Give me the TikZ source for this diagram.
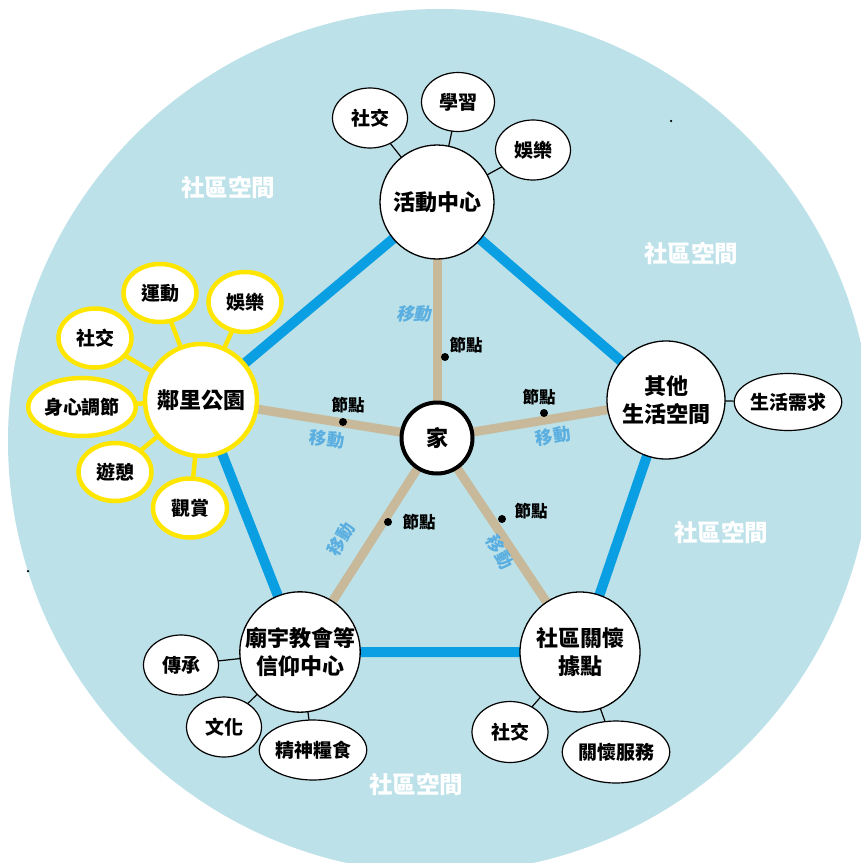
\documentclass[tikz,border=0pt]{standalone}
\usepackage{fontspec}
\setmainfont{Noto Sans CJK TC}
\usetikzlibrary{shapes.geometric}
\definecolor{bgblue}{HTML}{BCE1E8}
\definecolor{pentblue}{HTML}{0A9FE3}
\definecolor{spokecol}{HTML}{C8B99B}
\definecolor{parkyellow}{HTML}{FFE600}
\definecolor{movetext}{HTML}{5AAEE0}
\pgfdeclarelayer{bgzero}
\pgfdeclarelayer{bgone}
\pgfsetlayers{bgzero,bgone,main}
\begin{document}
\begin{tikzpicture}[x=1pt,y=-1pt,
  hub/.style={circle,draw=black,line width=1.3pt,fill=white,align=center,inner sep=0pt,
    font=\fontsize{22}{28}\selectfont\bfseries},
  parkhub/.style={hub,draw=parkyellow,line width=4.5pt},
  homenode/.style={circle,draw=black,line width=4pt,fill=white,inner sep=0pt,minimum size=71pt,
    font=\fontsize{22}{25}\selectfont\bfseries},
  leaf/.style={ellipse,draw=black,line width=1.2pt,fill=white,inner sep=0pt,
    font=\fontsize{19}{22}\selectfont\bfseries},
  parkleaf/.style={leaf,draw=parkyellow,line width=4.5pt},
  pentline/.style={draw=pentblue,line width=10pt},
  spokeline/.style={draw=spokecol,line width=9pt},
  leafline/.style={draw=black,line width=1.2pt},
  parkline/.style={draw=parkyellow,line width=4.5pt},
  areatext/.style={text=white,font=\fontsize{23.5}{27}\selectfont\bfseries},
  movelabel/.style={text=movetext,font=\fontsize{17.5}{20}\selectfont\bfseries,inner sep=0pt},
  nodelabel/.style={text=black,font=\fontsize{16.5}{19}\selectfont\bfseries,inner sep=0pt},
  dotmark/.style={circle,fill=black,inner sep=0pt,minimum size=8pt},
  speck/.style={circle,fill=black,inner sep=0pt,minimum size=2.5pt}
]
\useasboundingbox (0,0) rectangle (861,863);

% main nodes
\node[homenode] (home) at (437,438) {家};
\node[hub,minimum size=114pt] (act) at (437,202) {活動中心};
\node[parkhub,minimum size=112pt] (park) at (201,400) {鄰里公園};
\node[hub,minimum size=118pt] (other) at (666,400) {其他\\生活空間};
\node[hub,minimum size=120pt] (temple) at (300,652) {廟宇教會等\\信仰中心};
\node[hub,minimum size=120pt] (care) at (580,652) {社區關懷\\據點};

% leaves of activity centre
\node[leaf,minimum width=75pt,minimum height=60pt] (a1) at (370,118) {社交};
\node[leaf,minimum width=73pt,minimum height=59pt] (a2) at (458,102) {學習};
\node[leaf,minimum width=75pt,minimum height=60pt] (a3) at (533,150) {娛樂};

% leaves of park
\node[parkleaf,minimum width=73pt,minimum height=58pt] (p1) at (160,293) {運動};
\node[parkleaf,minimum width=73pt,minimum height=60pt] (p2) at (245,302) {娛樂};
\node[parkleaf,minimum width=73pt,minimum height=59pt] (p3) at (95,338) {社交};
\node[parkleaf,minimum width=89pt,minimum height=58pt] (p4) at (82,407) {身心調節};
\node[parkleaf,minimum width=73pt,minimum height=58pt] (p5) at (115,472) {遊憩};
\node[parkleaf,minimum width=74pt,minimum height=59pt] (p6) at (190,508) {觀賞};

% leaf of other
\node[leaf,minimum width=93pt,minimum height=57pt] (o1) at (788,402) {生活需求};

% leaves of temple
\node[leaf,minimum width=75pt,minimum height=60pt] (t1) at (181,665) {傳承};
\node[leaf,minimum width=75pt,minimum height=60pt] (t2) at (224,727) {文化};
\node[leaf,minimum width=93pt,minimum height=60pt] (t3) at (313,750) {精神糧食};

% leaves of care
\node[leaf,minimum width=76pt,minimum height=61pt] (c1) at (510,732) {社交};
\node[leaf,minimum width=93pt,minimum height=62pt] (c2) at (616,752) {關懷服務};

% background disc
\begin{pgfonlayer}{bgzero}
  \begin{scope}
    \clip (0,0) rectangle (861,863);
    \fill[bgblue] (440,441) circle[radius=432pt];
  \end{scope}
\end{pgfonlayer}

% connectors behind nodes
\begin{pgfonlayer}{bgone}
  \draw[pentline] (act.center) -- (other.center) -- (care.center) -- (temple.center) -- (park.center) -- cycle;
  \foreach \n in {act,park,other,temple,care} \draw[spokeline] (home.center) -- (\n.center);
  \foreach \n in {a1,a2,a3} \draw[leafline] (\n.center) -- (act.center);
  \foreach \n in {p1,p2,p3,p4,p5,p6} \draw[parkline] (\n.center) -- (park.center);
  \draw[leafline] (o1.center) -- (other.center);
  \foreach \n in {t1,t2,t3} \draw[leafline] (\n.center) -- (temple.center);
  \foreach \n in {c1,c2} \draw[leafline] (\n.center) -- (care.center);
\end{pgfonlayer}

% junction dots and labels
\node[dotmark] (d1) at (445,357) {};
\node[nodelabel] (l1) at (466,345) {節點};
\node[dotmark] (d2) at (544,413) {};
\node[nodelabel] (l2) at (539,397) {節點};
\node[dotmark] (d3) at (343,422) {};
\node[nodelabel] (l3) at (348,405) {節點};
\node[dotmark] (d4) at (388,522) {};
\node[nodelabel] (l4) at (419,522) {節點};
\node[dotmark] (d5) at (502,519) {};
\node[nodelabel] (l5) at (531,511) {節點};

% movement labels
\node[movelabel,xslant=0.22] (m1) at (415,314) {移動};
\node[movelabel,rotate=9] (m2) at (553,436) {移動};
\node[movelabel,rotate=-8] (m3) at (327,439) {移動};
\node[movelabel,rotate=58] (m4) at (341,539) {移動};
\node[movelabel,rotate=-62] (m5) at (500,552) {移動};

% community space labels
\node[areatext] (s1) at (228,187) {社區空間};
\node[areatext] (s2) at (691,253) {社區空間};
\node[areatext] (s3) at (721,532) {社區空間};
\node[areatext] (s4) at (416,784) {社區空間};

% stray specks
\node[speck] (k1) at (671,121) {};
\node[speck] (k2) at (28,571) {};
\end{tikzpicture}
\end{document}
